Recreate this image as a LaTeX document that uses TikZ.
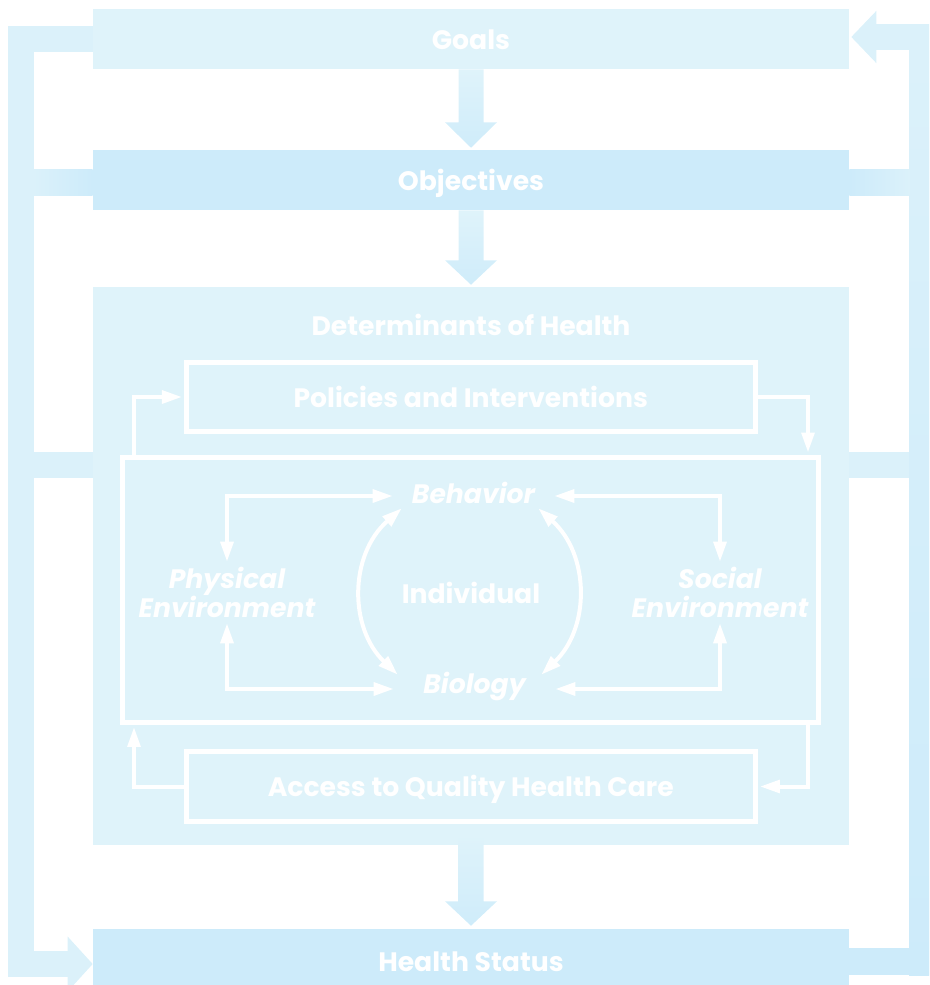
\documentclass[tikz,border=0pt]{standalone}
\usepackage{fontspec}
\newfontfamily\labelfont{Poppins}
\usetikzlibrary{arrows.meta,calc}

\definecolor{paleblue}{HTML}{DFF3FA}
\definecolor{midblue}{HTML}{CDEBFA}
\definecolor{barblue}{HTML}{DBF1FA}
\definecolor{flowtop}{HTML}{DFF3FA}
\definecolor{flowbot}{HTML}{CFECFA}

\tikzset{
  wtip/.tip={Triangle[length=15pt,width=9.5pt]},
  labelfont/.style={font=\labelfont\bfseries\fontsize{20}{21.75}\selectfont},
  band/.style={fill=#1, minimum width=567pt, minimum height=45pt, inner sep=0pt,
    text=white, labelfont, text height=15pt, text depth=0pt},
  panel/.style={fill=paleblue, minimum width=567pt, minimum height=418.5pt, inner sep=0pt},
  whitebox/.style={draw=white, line width=3.75pt, inner sep=0pt, text=white,
    labelfont, text height=15pt, text depth=0pt},
  heading/.style={text=white, labelfont, inner sep=0pt, text height=15pt, text depth=0pt},
  factor/.style={text=white, font=\labelfont\bfseries\itshape\fontsize{20}{21.75}\selectfont,
    inner sep=0pt, minimum width=120.75pt, text height=15pt},
  env/.style={text=white, font=\labelfont\bfseries\itshape\fontsize{20}{21.75}\selectfont,
    inner sep=0pt, align=center, minimum height=45.75pt},
  link/.style={draw=white, line width=3pt, line join=miter},
  bar/.style={draw=barblue, line width=19.5pt, line join=miter},
  flow/.style={top color=flowtop, bottom color=flowbot}
}

\begin{document}
\begin{tikzpicture}[x=0.75pt,y=-0.75pt]
\useasboundingbox (0,0) rectangle (929,985);
\clip (0,0) rectangle (929,985);

% main stages
\node[band=paleblue] (goals) at (471,39) {Goals};
\node[band=midblue] (objectives) at (471,180) {Objectives};
\node[panel] (determinants) at (471,566) {};
\node[band=midblue, minimum height=48pt] (health) at (471,961) {Health Status};

% feedback rails
\coordinate (lb) at (21,964);
\coordinate (rb) at (922,961.5);
\coordinate (rt) at (922,37);
\coordinate (dl) at (21,465);
\coordinate (dr) at (922,465);
\draw[bar, -{Triangle[length=18.75pt,width=40pt]}]
  (goals.west) -| (lb) -- (health.west |- lb);
\draw[bar, -{Triangle[length=18.75pt,width=38pt]}, shorten >=1.5pt]
  (health.east |- rb) -- (rb) -- (rt) -- (goals.east |- rt);
% the right rail deepens in tone towards the bottom
\shade[top color=barblue, bottom color=midblue]
  ($(rt)+(-13,13)$) rectangle ($(rb)+(13,13.5)$);
\fill[midblue] ($(health.east |- rb)+(0,-13.5)$) rectangle ($(rb)+(-13,13.5)$);
\draw[bar] (dl) -- (determinants.west |- dl);
\draw[bar] (determinants.east |- dr) -- ($(dr)+(-13,0)$);
\shade[left color=barblue, right color=midblue]
  ($(objectives.west)+(-59,-11)$) rectangle ($(objectives.west)+(0,15)$);
\shade[left color=midblue, right color=barblue]
  ($(objectives.east)+(0,-11)$) rectangle ($(objectives.east)+(60,15)$);

% downward flow arrows
\shade[flow] ($(goals.south)+(-12.5,0)$) -- ($(goals.south)+(12.5,0)$)
  -- ($(goals.south)+(12.5,53)$) -- ($(goals.south)+(26,53)$)
  -- ($(objectives.north)+(0,-2)$)
  -- ($(goals.south)+(-26,53)$) -- ($(goals.south)+(-12.5,53)$) -- cycle;
\shade[flow] ($(objectives.south)+(-12.5,0)$) -- ($(objectives.south)+(12.5,0)$)
  -- ($(objectives.south)+(12.5,50)$) -- ($(objectives.south)+(26,50)$)
  -- ($(determinants.north)+(0,-2)$)
  -- ($(objectives.south)+(-26,50)$) -- ($(objectives.south)+(-12.5,50)$) -- cycle;
\shade[flow] ($(determinants.south)+(-13,-11)$) -- ($(determinants.south)+(12.5,-11)$)
  -- ($(determinants.south)+(12.5,56)$) -- ($(determinants.south)+(26,56)$)
  -- ($(health.north)+(0,-3)$)
  -- ($(determinants.south)+(-26,56)$) -- ($(determinants.south)+(-13,56)$) -- cycle;

% determinants panel contents
\node[heading] (dettitle) at (471,325) {Determinants of Health};
\node[whitebox, minimum width=426.4pt, minimum height=51.75pt] (policies)
  at (470.75,397) {Policies and Interventions};
\node[whitebox, minimum width=522pt, minimum height=199.1pt] (frame) at (470.5,589.75) {};
\node[whitebox, minimum width=427.1pt, minimum height=52.5pt] (access)
  at (470.75,786.5) {Access to Quality Health Care};

\node[factor, text depth=4.5pt] (behavior) at (473.5,496) {Behavior};
\node[factor, text depth=9pt] (biology) at (474.5,689) {Biology};
\node[heading] (individual) at (471,593) {Individual};
\node[env] (physical) at (227,592.5) {Physical\\Environment};
\node[env] (social) at (720,592.5) {Social\\Environment};

% loops through policies and access
\coordinate (pl) at (134,0);
\coordinate (pr) at (808,0);
\draw[link, -wtip, shorten >=1.5pt] (frame.north -| pl) |- (policies.west);
\draw[link, -wtip, shorten >=1.5pt] (policies.east) -| (frame.north -| pr);
\draw[link, -wtip, shorten >=1.5pt] (access.west) -| (frame.south -| pl);
\draw[link, -wtip, shorten >=1.5pt] (frame.south -| pr) |- (access.east);

% interactions around the individual
\draw[link, wtip-wtip] (physical.north) |- (behavior.west);
\draw[link, wtip-wtip] (physical.south) |- (biology.west);
\draw[link, wtip-wtip] (social.north) |- (behavior.east);
\draw[link, wtip-wtip] (social.south) |- (biology.east);
\draw[link, wtip-wtip] ($(behavior.south west)+(9,-1)$)
  .. controls (349,555) and (349,628) .. ($(biology.north west)+(4,2)$);
\draw[link, wtip-wtip] ($(behavior.south east)+(-16,-1)$)
  .. controls (590,555) and (590,628) .. ($(biology.north east)+(-14,2)$);
\end{tikzpicture}
\end{document}
